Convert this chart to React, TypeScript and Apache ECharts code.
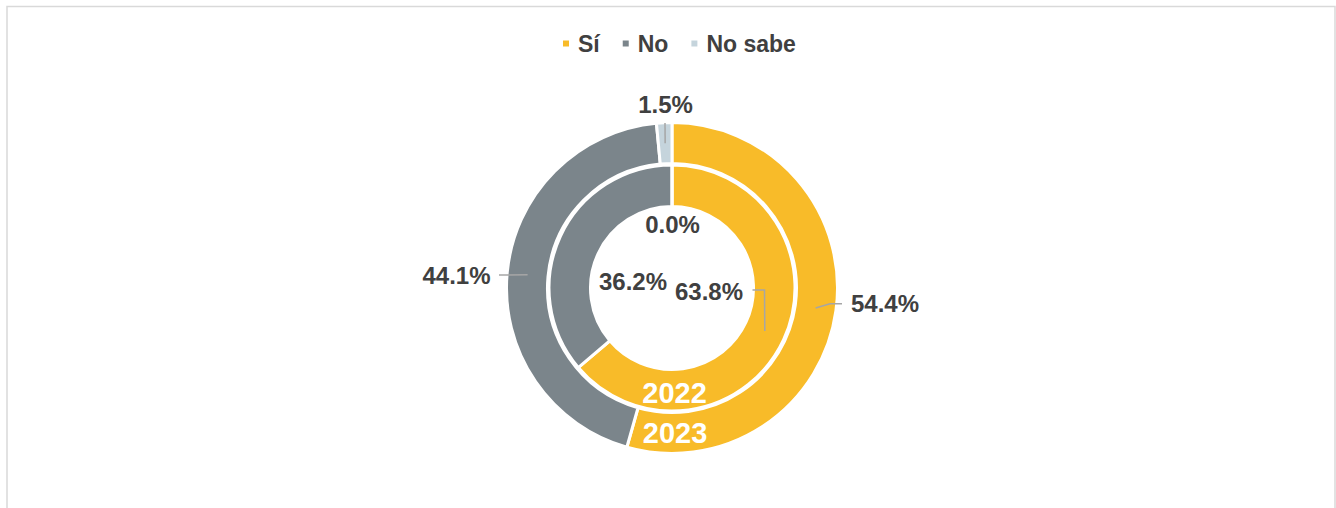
import React, { useEffect, useRef } from 'react';
import * as echarts from 'echarts';

// ---- data ----
const categories = ['Sí', 'No', 'No sabe'];
const years = ['2022', '2023'];
const values2022 = [63.8, 36.2, 0.0];
const values2023 = [54.4, 44.1, 1.5];
const colors = ['#F8BB29', '#7B858B', '#C5D4DC'];

// ---- layout / style ----
const W = 1336;
const H = 508;
const CX = 672;
const CY = 288;
const INNER_R = [81.5, 123];
const OUTER_R = [124.5, 165.5];
const FONT = "'Liberation Sans', Arial, sans-serif";
const TEXT = '#404040';
const LINE = '#A6A6A6';

type Place = { x: number; y: number; align: string; line: number[][] | null };
// label placement per ring (0: 2022 inner, 1: 2023 outer), per category
const labelPlacement: Place[][] = [
  [
    { x: 709, y: 291.5, align: 'center', line: [[752.5, 290], [764.5, 290]] },
    { x: 633, y: 281, align: 'center', line: null },
    { x: 672.5, y: 224.5, align: 'center', line: null },
  ],
  [
    { x: 851, y: 303.5, align: 'left', line: [[842, 303.7], [830, 303.7]] },
    { x: 490.5, y: 275.5, align: 'right', line: [[499, 275]] },
    { x: 665.5, y: 104, align: 'center', line: [[665, 123]] },
  ],
];
const yearLabelPos = [
  { x: 674.5, y: 392.5 },
  { x: 675, y: 432.5 },
];

function anchor(vals: number[], i: number, r: number) {
  const total = vals.reduce((a, b) => a + b, 0);
  const before = vals.slice(0, i).reduce((a, b) => a + b, 0);
  const ang = ((before + vals[i] / 2) / total) * Math.PI * 2;
  return [CX + r * Math.sin(ang), CY - r * Math.cos(ang)];
}

const ringVals = [values2022, values2023];
const ringR = [INNER_R, OUTER_R];
const ringMid = [(INNER_R[0] + INNER_R[1]) / 2, (OUTER_R[0] + OUTER_R[1]) / 2];

function makeSeries(ring: number) {
  const vals = ringVals[ring];
  return {
    type: 'pie',
    name: years[ring],
    center: [CX, CY],
    radius: ringR[ring],
    startAngle: 90,
    clockwise: true,
    avoidLabelOverlap: false,
    silent: true,
    itemStyle: { borderColor: '#FFFFFF', borderWidth: 3 },
    label: {
      show: true,
      position: 'outside',
      formatter: (p: any) => Number(p.value).toFixed(1) + '%',
      fontSize: 24,
      fontWeight: 'bold',
      color: TEXT,
      fontFamily: FONT,
    },
    labelLine: { show: false },
    labelLayout: (params: any) => {
      const pl = labelPlacement[ring][params.dataIndex];
      return { x: pl.x, y: pl.y, align: pl.align, verticalAlign: 'middle' };
    },
    data: categories.map((c, i) => ({
      name: c,
      value: vals[i],
      itemStyle: { color: colors[i] },
    })),
  };
}

function leaderLines() {
  const out: any[] = [];
  [0, 1].forEach((ring) => {
    categories.forEach((_, i) => {
      const pl = labelPlacement[ring][i];
      if (!pl.line) return;
      out.push({
        type: 'polyline',
        silent: true,
        z: 50,
        shape: { points: [...pl.line, anchor(ringVals[ring], i, ringMid[ring])] },
        style: { stroke: LINE, lineWidth: 1.5, fill: 'none' },
      });
    });
  });
  return out;
}

export default function App() {
  const ref = useRef<HTMLDivElement>(null);
  useEffect(() => {
    if (!ref.current) return;
    const chart = echarts.init(ref.current, null, { renderer: 'svg' });
    chart.setOption({
      animation: false,
      backgroundColor: '#FFFFFF',
      legend: {
        data: categories,
        left: 561,
        top: 32,
        padding: 0,
        itemWidth: 8,
        itemHeight: 8,
        itemGap: 21,
        icon: 'rect',
        selectedMode: false,
        textStyle: {
          fontSize: 23,
          fontWeight: 'bold',
          color: TEXT,
          fontFamily: FONT,
          padding: [0, 0, 0, 3],
        },
      },
      graphic: [
        {
          type: 'rect',
          silent: true,
          shape: { x: 7, y: 6.5, width: 1328, height: 600 },
          style: { fill: 'none', stroke: '#D9D9D9', lineWidth: 1.5 },
          z: -10,
        },
        ...leaderLines(),
        ...years.map((y, i) => ({
          type: 'text',
          silent: true,
          x: yearLabelPos[i].x,
          y: yearLabelPos[i].y,
          z: 100,
          style: {
            text: y,
            fill: '#FFFFFF',
            fontSize: 29,
            fontWeight: 'bold',
            fontFamily: FONT,
            textAlign: 'center',
            textVerticalAlign: 'middle',
          },
        })),
      ],
      series: [makeSeries(0), makeSeries(1)],
    });
    return () => chart.dispose();
  }, []);
  return (
    <div
      ref={ref}
      style={{ position: 'absolute', left: 0, top: 0, width: W, height: H }}
    />
  );
}
